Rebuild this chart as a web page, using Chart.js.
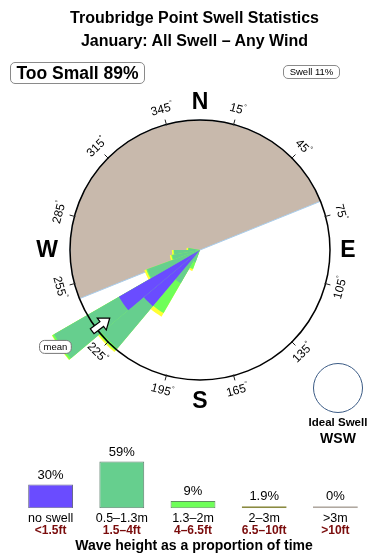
<!DOCTYPE html>
<html><head><meta charset="utf-8">
<script src="https://cdn.jsdelivr.net/npm/chart.js@4/dist/chart.umd.min.js"></script>
<style>
body{margin:0;width:390px;height:560px;position:relative;background:#fff;font-family:'Liberation Sans',Arial,sans-serif;overflow:hidden}
canvas{position:absolute;left:0}
#rose{top:0}
#bars{top:440px}
.t{position:absolute;left:0;width:389px;text-align:center;font-weight:bold;font-size:16px;line-height:18px;color:#000}
.box{position:absolute;border:1px solid #8a8a8a;border-radius:5px;background:#fff;color:#000;white-space:nowrap;box-sizing:border-box;text-align:center}
#ideal{position:absolute;left:313px;top:363px;width:50px;height:50px;border:1px solid #3b5b85;border-radius:50%;box-sizing:border-box}
.it{position:absolute;left:288px;width:100px;text-align:center;font-weight:bold;color:#000}
</style></head><body>
<canvas id="rose" width="390" height="440" style="width:390px;height:440px"></canvas>
<canvas id="bars" width="390" height="120" style="width:390px;height:120px"></canvas>
<div class="t" style="top:9px">Troubridge Point Swell Statistics</div>
<div class="t" style="top:32px">January: All Swell – Any Wind</div>
<div class="box" style="left:10px;top:62px;width:135px;height:22px;font-size:17.5px;font-weight:bold;line-height:20px">Too Small 89%</div>
<div class="box" style="left:283px;top:65px;width:57px;height:14px;font-size:9.5px;line-height:12px">Swell 11%</div>
<div id="ideal"></div>
<div class="it" style="top:416px;font-size:11.5px">Ideal Swell</div>
<div class="it" style="top:430px;font-size:14px">WSW</div>
<script>
// ---- rose data (percent of time per 10-degree direction bin) ----
const binStart = [200, 210, 220, 230, 240, 250, 260, 270];
const noSwell  = [0,   0,   14.1, 18.0, 0,    0,   0,   0];
const h05_13   = [2.5, 7.4, 10.6, 14.4, 10.8, 5.4, 5.0, 2.2];
const h13_2    = [1.4, 6.6, 0.6,  0.4,  0.2,  0.2, 0.1, 0.1];
const h2_3     = [0.4, 0.8, 0.3,  0.1,  0.4,  0.3, 0.3, 0.3];
const shadowFrom = 248, shadowTo = 68;   // sheltered (too small) sector, degrees
const meanDirection = 233;
const ringMax = 25;                      // value at outer ring
const degreeTicks = [15,45,75,105,135,165,195,225,255,285,315,345];
const compass = [['N',0],['E',90],['S',180],['W',270]];
// ---- legend bars ----
const heightLabels = ['no swell','0.5\u20131.3m','1.3\u20132m','2\u20133m','>3m'];
const feetLabels   = ['<1.5ft','1.5\u20134ft','4\u20136.5ft','6.5\u201310ft','>10ft'];
const heightPct    = [30, 59, 9, 1.9, 0];
const legendTitle  = 'Wave height as a proportion of time';

const COLORS = ['#6a4cff','#66cf8e','#6eff58','#ffff33','#c8b9ac'];
const FONT = "'Liberation Sans', Arial, sans-serif";

const dirLabels = Array.from({length:36},(_, i)=>String(i*10));
function toBins(vals){const a=new Array(36).fill(0);binStart.forEach((b,i)=>{a[b/10]=vals[i];});return a;}
const layers=[noSwell,h05_13,h13_2,h2_3].map(toBins);
const cum=[];let run=new Array(36).fill(0);
layers.forEach(l=>{run=run.map((v,i)=>v+l[i]);cum.push(run.slice());});

const shadowData=[0, ringMax];
const shadowAngles=[shadowFrom, (shadowTo+360-shadowFrom)];

const letterGap={N:18,E:18,S:21,W:23};
const roseDeco={
  id:'roseDeco',
  afterDatasetsDraw(chart){
    const s=chart.scales.r, ctx=chart.ctx;
    const cx=s.xCenter, cy=s.yCenter, R=s.drawingArea;
    const P=(b,r)=>[cx+r*Math.sin(b*Math.PI/180), cy-r*Math.cos(b*Math.PI/180)];
    ctx.save();
    ctx.strokeStyle='#000';ctx.lineWidth=1.5;
    ctx.beginPath();ctx.arc(cx,cy,R,0,Math.PI*2);ctx.stroke();
    ctx.lineWidth=1;ctx.strokeStyle='#222';
    degreeTicks.forEach(b=>{const a=P(b,R-1),c=P(b,R+5);ctx.beginPath();ctx.moveTo(a[0],a[1]);ctx.lineTo(c[0],c[1]);ctx.stroke();});
    ctx.fillStyle='#000';
    degreeTicks.forEach(b=>{
      const [x,y]=P(b,R+15.5);
      const rot=b<=90?b:(b<270?b-180:b-360);
      ctx.save();ctx.translate(x,y);ctx.rotate(rot*Math.PI/180);
      ctx.font='12px '+FONT;ctx.textAlign='center';ctx.textBaseline='middle';
      const t=String(b);const w=ctx.measureText(t).width;
      ctx.fillText(t,-1.5,0);
      ctx.font='7px '+FONT;ctx.textAlign='left';ctx.fillText('\u00b0',-1.5+w/2,-4);
      ctx.restore();
    });
    ctx.font='bold 23px '+FONT;ctx.textAlign='center';ctx.textBaseline='middle';
    compass.forEach(([t,b])=>{const [x,y]=P(b,R+letterGap[t]);ctx.fillText(t,x,y+1);});
    // mean direction arrow (points toward centre)
    const tail=R+5;
    const rad=meanDirection*Math.PI/180;
    const ux=-Math.sin(rad), uy=Math.cos(rad); // inward unit vector
    const px=-uy, py=ux;
    const [tx,ty]=P(meanDirection,tail);
    const pts=[[0,-3],[12,-3],[12,-7.5],[22,0],[12,7.5],[12,3],[0,3]];
    ctx.beginPath();
    pts.forEach(([a,b],i)=>{const x=tx+ux*a+px*b,y=ty+uy*a+py*b;i?ctx.lineTo(x,y):ctx.moveTo(x,y);});
    ctx.closePath();ctx.fillStyle='#fff';ctx.fill();ctx.strokeStyle='#000';ctx.lineWidth=1.2;ctx.stroke();
    // mean label
    const [mx,my]=P(meanDirection,R+36);
    ctx.font='9.5px '+FONT;const mw=ctx.measureText('mean').width+8;
    const bx=mx-mw/2-12, by=my-3;
    ctx.beginPath();ctx.roundRect(bx,by-6.5,mw,13,5);ctx.fillStyle='#fff';ctx.fill();ctx.strokeStyle='#777';ctx.lineWidth=1;ctx.stroke();
    ctx.fillStyle='#000';ctx.textAlign='center';ctx.textBaseline='middle';ctx.fillText('mean',bx+mw/2,by+0.5);
    ctx.restore();
  }
};

new Chart(document.getElementById('rose'),{
  type:'polarArea',
  data:{labels:dirLabels,datasets:[
    {data:cum[0],backgroundColor:COLORS[0],borderWidth:0,clip:false},
    {data:cum[1],backgroundColor:COLORS[1],borderWidth:0,clip:false},
    {data:cum[2],backgroundColor:COLORS[2],borderWidth:0,clip:false},
    {data:cum[3],backgroundColor:COLORS[3],borderWidth:0,clip:false},
    {data:shadowData,backgroundColor:COLORS[4],borderColor:'#a9cdec',borderWidth:1,clip:false,
     angle:(c)=>shadowAngles[c.dataIndex]}
  ]},
  options:{responsive:false,animation:false,
    layout:{padding:{left:70,right:60,top:120,bottom:60}},
    plugins:{legend:{display:false},tooltip:{enabled:false}},
    scales:{r:{min:0,max:ringMax,startAngle:0,ticks:{display:false},grid:{display:false},angleLines:{display:false},pointLabels:{display:false}}}
  },
  plugins:[roseDeco]
});

const legendTextPlugin={
  id:'legendText',
  afterDraw(chart){
    const ctx=chart.ctx, meta=chart.getDatasetMeta(0), xs=chart.scales.x, ca=chart.chartArea;
    ctx.save();ctx.textAlign='center';
    ctx.font='13px '+FONT;ctx.fillStyle='#000';ctx.textBaseline='bottom';
    meta.data.forEach((el,i)=>{ctx.fillText(heightPct[i]+'%',el.x,el.y-3);});
    ctx.textBaseline='middle';
    ctx.font='bold 12px '+FONT;ctx.fillStyle='#7a0c0c';
    feetLabels.forEach((t,i)=>{ctx.fillText(t,xs.getPixelForTick(i),ca.bottom+22.5);});
    ctx.font='bold 14px '+FONT;ctx.fillStyle='#000';
    ctx.fillText(legendTitle,(xs.left+xs.right)/2+1,ca.bottom+38);
    ctx.restore();
  }
};
new Chart(document.getElementById('bars'),{
  type:'bar',
  data:{labels:heightLabels,datasets:[{data:heightPct,backgroundColor:COLORS,
    borderColor:['#6a6a8a','#5f7f6f','#5f8f5f','#8a8a40','#b0a8a0'],borderWidth:1,borderSkipped:false,
    barPercentage:0.9,categoryPercentage:0.7,minBarLength:2}]},
  options:{responsive:false,animation:false,
    layout:{padding:{left:15,right:19,top:0,bottom:32}},
    plugins:{legend:{display:false},tooltip:{enabled:false}},
    scales:{
      y:{display:false,min:0,max:86},
      x:{grid:{display:false,drawTicks:false},border:{display:false},ticks:{color:'#000',font:{size:12.5,family:FONT,lineHeight:1.1},padding:3,maxRotation:0,autoSkip:false}}
    }
  },
  plugins:[legendTextPlugin]
});
</script>
</body></html>
